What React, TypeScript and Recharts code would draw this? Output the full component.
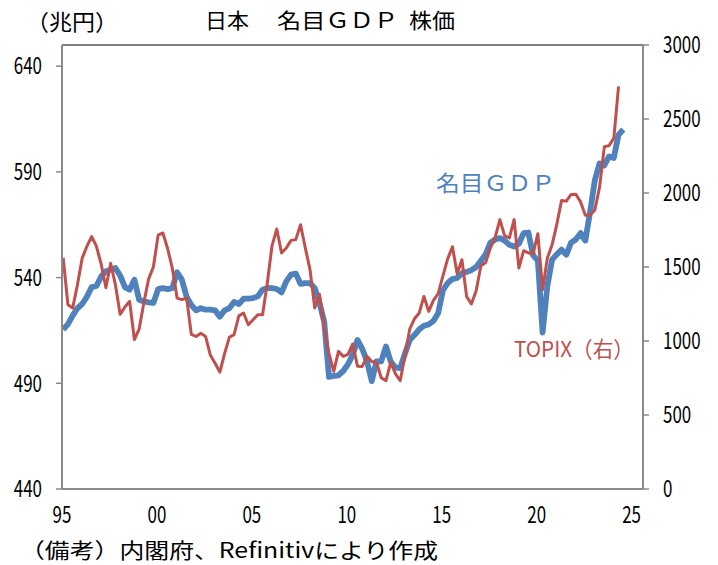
import React from 'react';
import { LineChart, Line, XAxis, YAxis, ReferenceLine } from 'recharts';

// Quarterly series, first quarter = 1995 Q1
const FIRST_YEAR = 1995;

// Nominal GDP, trillion yen (left axis)
const gdp = [
  515.4, 518, 522, 525.5, 527.5, 531, 535.5, 536, 540.5, 543, 543.7, 544.5,
  541, 535.5, 534.3, 539, 529.5, 528.7, 528.3, 528, 534.5, 535, 534.5, 535,
  542.5, 539, 531, 527, 524.5, 525.5, 524.8, 524.8, 524.5, 521.5, 524.5, 525.5,
  528.5, 527.5, 530, 530, 530.3, 531.1, 534.3, 535.1, 535, 534.6, 533, 538.2,
  541.4, 541.9, 537, 537.4, 537.4, 535, 528, 519, 493, 493.5, 493.8, 495.8,
  499, 503.5, 510.5, 506.3, 500.5, 491, 500.3, 500.4, 507.4, 500.3, 497.4, 497.2,
  504, 510.5, 512.8, 515.5, 517.2, 517.8, 519.5, 523.2, 534, 537.4, 539.3, 539.8,
  542, 542.7, 543.5, 545, 548, 551, 556.5, 558, 558.7, 557.5, 555.5, 554.7,
  556, 561, 561.3, 550.5, 548, 514, 536, 548.5, 551, 553.2, 550.8, 556.5,
  558, 561, 557.5, 571, 586, 594, 593, 597.3, 596.6, 607.6, 610,
];

// TOPIX (right axis)
const topix = [
  1561, 1245, 1223, 1380, 1560, 1640, 1705, 1640, 1520, 1360, 1525, 1380,
  1180, 1230, 1268, 1010, 1080, 1260, 1420, 1500, 1715, 1730, 1625, 1490,
  1290, 1280, 1290, 1045, 1031, 1052, 1031, 905, 850, 790, 915, 1025,
  1043, 1170, 1189, 1110, 1144, 1178, 1178, 1392, 1645, 1757, 1595, 1628,
  1680, 1685, 1786, 1630, 1482, 1223, 1316, 1085, 915, 795, 930, 896,
  910, 980, 830, 828, 896, 862, 855, 752, 732, 856, 778, 732,
  900, 1080, 1150, 1189, 1301, 1200, 1275, 1320, 1440, 1555, 1637, 1455,
  1549, 1300, 1250, 1340, 1508, 1530, 1630, 1700, 1820, 1710, 1696, 1820,
  1493, 1610, 1595, 1590, 1725, 1347, 1560, 1650, 1790, 1950, 1945, 1990,
  1992, 1940, 1850, 1850, 1885, 2040, 2312, 2320, 2370, 2720,
];

const leftTicks = [440, 490, 540, 590, 640];
const rightTicks = [0, 500, 1000, 1500, 2000, 2500, 3000];
const yearTicks = [1995, 2000, 2005, 2010, 2015, 2020, 2025];
const yearLabels = ['95', '00', '05', '10', '15', '20', '25'];

const data = gdp.map((v, i) => ({
  t: FIRST_YEAR + (i + 0.25) / 4,
  gdp: v,
  topix: i < topix.length ? topix[i] : null,
}));

const FONT = '"Noto Sans CJK JP", "Noto Sans", sans-serif';
const AXIS_GRAY = '#8a8a8a';
const BLUE = '#4F81BD';
const RED = '#C0504D';

type TickProps = {
  x?: number;
  y?: number;
  payload?: { value: number };
};

// Narrow, tall digits for axis labels
const NumText = ({ x, y, label, anchor }: { x: number; y: number; label: string; anchor: 'start' | 'middle' | 'end' }) => (
  <text
    x={x}
    y={y}
    textAnchor={anchor}
    fontFamily={FONT}
    fontSize={23}
    fill="#000"
    textLength={label.length * 9.4}
    lengthAdjust="spacingAndGlyphs"
  >
    {label}
  </text>
);

const LeftTick = ({ x = 0, y = 0, payload }: TickProps) => (
  <NumText x={x} y={y + 8.3} label={String(payload?.value ?? '')} anchor="end" />
);

const RightTick = ({ x = 0, y = 0, payload }: TickProps) => (
  <NumText x={x} y={y + 8.3} label={String(payload?.value ?? '')} anchor="start" />
);

const YearTick = ({ x = 0, y = 0, payload }: TickProps) => {
  const idx = yearTicks.indexOf(payload?.value ?? -1);
  const label = idx >= 0 ? yearLabels[idx] : '';
  return <NumText x={x} y={y + 34} label={label} anchor="middle" />;
};

export default function App() {
  return (
    <div style={{ position: 'absolute', left: 0, top: 0, width: 718, height: 565, background: '#fff' }}>
      <LineChart
        width={718}
        height={565}
        data={data}
        margin={{ top: 45, right: 0, bottom: 0, left: 0 }}
      >
        <XAxis
          dataKey="t"
          type="number"
          domain={[1995, 2025.6]}
          ticks={yearTicks}
          interval={0}
          height={76}
          tickLine={false}
          tickSize={0}
          tickMargin={0}
          axisLine={{ stroke: AXIS_GRAY, strokeWidth: 2 }}
          tick={<YearTick />}
        />
        <YAxis
          yAxisId="left"
          orientation="left"
          width={62}
          domain={[440, 650]}
          ticks={leftTicks}
          interval={0}
          tickSize={6}
          tickMargin={14}
          axisLine={{ stroke: AXIS_GRAY, strokeWidth: 2 }}
          tickLine={{ stroke: AXIS_GRAY, strokeWidth: 1.5 }}
          tick={<LeftTick />}
        />
        <YAxis
          yAxisId="right"
          orientation="right"
          width={75}
          domain={[0, 3000]}
          ticks={rightTicks}
          interval={0}
          tickSize={6}
          tickMargin={14}
          axisLine={{ stroke: AXIS_GRAY, strokeWidth: 2 }}
          tickLine={{ stroke: AXIS_GRAY, strokeWidth: 1.5 }}
          tick={<RightTick />}
        />
        <ReferenceLine yAxisId="left" y={650} stroke="#000" strokeWidth={1} />
        <Line
          yAxisId="left"
          type="linear"
          dataKey="gdp"
          stroke={BLUE}
          strokeWidth={5.8}
          dot={false}
          strokeLinejoin="round"
          isAnimationActive={false}
        />
        <Line
          yAxisId="right"
          type="linear"
          dataKey="topix"
          stroke={RED}
          strokeWidth={3}
          dot={false}
          strokeLinejoin="round"
          isAnimationActive={false}
        />
      </LineChart>
      <svg
        width={718}
        height={565}
        style={{ position: 'absolute', left: 0, top: 0, pointerEvents: 'none' }}
      >
        <g fontFamily={FONT}>
          <text x={26} y={30} fontSize={22} textLength={92} lengthAdjust="spacingAndGlyphs">（兆円）</text>
          <text x={205} y={28} fontSize={21} textLength={44} lengthAdjust="spacingAndGlyphs">日本</text>
          <text x={277} y={28} fontSize={21} textLength={121} lengthAdjust="spacingAndGlyphs">名目ＧＤＰ</text>
          <text x={409} y={28} fontSize={21} textLength={46} lengthAdjust="spacingAndGlyphs">株価</text>
          <text x={436} y={191} fontSize={22} fill={BLUE} textLength={119} lengthAdjust="spacingAndGlyphs">名目ＧＤＰ</text>
          <text x={514} y={357} fontSize={22} fill={RED} textLength={120} lengthAdjust="spacingAndGlyphs">TOPIX（右）</text>
          <text x={20} y={558} fontSize={21} textLength={418} lengthAdjust="spacingAndGlyphs">（備考）内閣府、Refinitivにより作成</text>
        </g>
      </svg>
    </div>
  );
}
